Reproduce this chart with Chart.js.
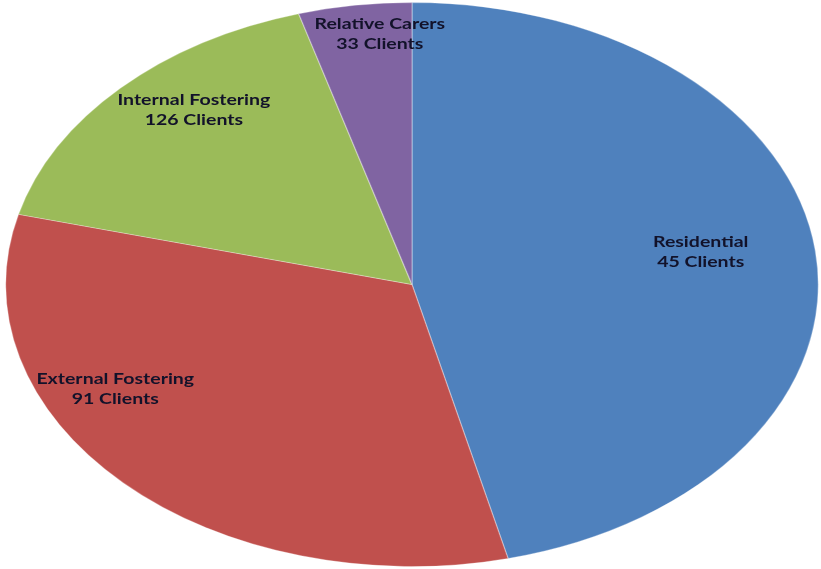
<!DOCTYPE html>
<html>
<head>
<meta charset="utf-8">
<script src="https://cdn.jsdelivr.net/npm/chart.js@4.4.0/dist/chart.umd.min.js"></script>
<style>
  html, body { margin: 0; padding: 0; background: #ffffff; }
  canvas { display: block; }
</style>
</head>
<body>
<canvas id="placement-pie" width="821" height="569"></canvas>
<script>
/* PIE: CLIENT PLACEMENTS */
const categories = ['Residential', 'External Fostering', 'Internal Fostering', 'Relative Carers'];
const clientCounts = [45, 91, 126, 33];
// slice shares as drawn in the picture (percent of the pie)
const sliceShares = [46.2, 32.8, 16.5, 4.5];
const sliceColours = ['#4F81BD', '#C0504D', '#9BBB59', '#8064A2'];

// the pie is stretched sideways into an ellipse
const stretchX = 407 / 282.5;
const textStretch = 1.3;
// where each label sits: fraction of radius, and turn from the slice middle (deg)
const labelRadius = [0.72, 0.82, 0.82, 0.89];
const labelTurn = [-2.4, 17.6, 5, 3];

const ellipsePlugin = {
    id: 'ellipse',
    beforeDatasetsDraw(chart) {
        const ctx = chart.ctx;
        const arc = chart.getDatasetMeta(0).data[0];
        ctx.save();
        ctx.translate(arc.x, arc.y);
        ctx.scale(stretchX, 1);
        ctx.translate(-arc.x, -arc.y);
    },
    afterDatasetsDraw(chart) {
        chart.ctx.restore();
    },
    afterDraw(chart) {
        const ctx = chart.ctx;
        chart.getDatasetMeta(0).data.forEach(function(arc, i) {
            const mid = (arc.startAngle + arc.endAngle) / 2 + labelTurn[i] * Math.PI / 180;
            const r = arc.outerRadius * labelRadius[i];
            const x = arc.x + Math.cos(mid) * r * stretchX;
            const y = arc.y + Math.sin(mid) * r;
            ctx.save();
            ctx.translate(x, y);
            ctx.scale(textStretch, 1);
            ctx.fillStyle = '#12122a';
            ctx.font = 'bold 15px Lato';
            ctx.textAlign = 'center';
            ctx.textBaseline = 'middle';
            ctx.fillText(categories[i], 0, -10);
            ctx.fillText(clientCounts[i] + ' Clients', 0, 10);
            ctx.restore();
        });
    }
};

const ctx_pie = document.getElementById('placement-pie').getContext('2d');
const pieChart = new Chart(ctx_pie, {
    type: 'pie',
    data: {
        labels: categories,
        datasets: [{
            data: sliceShares,
            backgroundColor: sliceColours,
            borderColor: 'rgba(255,255,255,0.3)',
            borderWidth: 1
        }]
    },
    options: {
        responsive: false,
        animation: false,
        events: [],
        layout: {
            padding: { top: 2, bottom: 2, left: 3, right: 0 }
        },
        plugins: {
            legend: { display: false },
            tooltip: { enabled: false }
        }
    },
    plugins: [ellipsePlugin]
});
</script>
</body>
</html>
